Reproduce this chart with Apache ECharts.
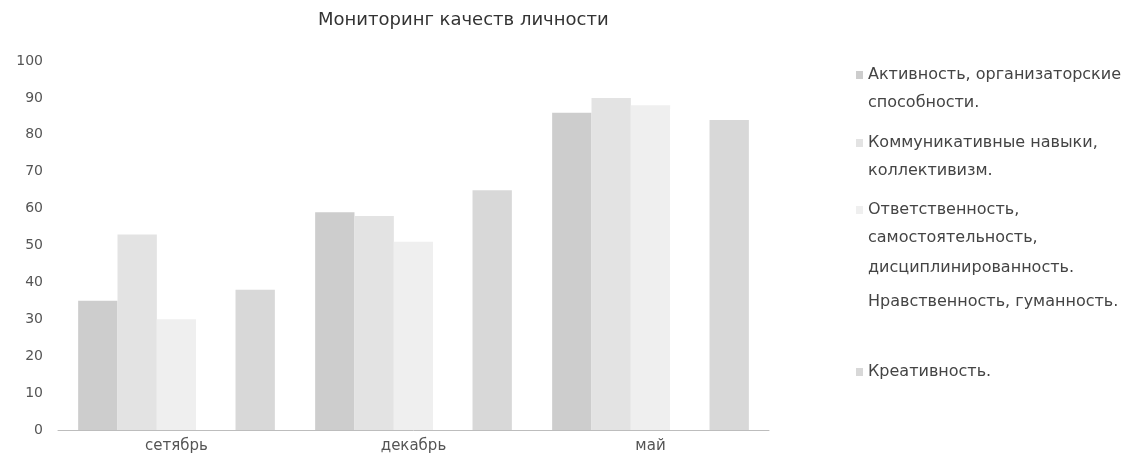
<!DOCTYPE html>
<html style="height: 100%">
<head>
    <meta charset="utf-8">
    <title>index</title>
    <style>
        body { margin: 0; background: #fff; }
        #container { width: 1140px; height: 461px; }
    </style>
</head>
<body>
    <div id="container"></div>
</body>
<script src="https://cdn.jsdelivr.net/npm/echarts@6/dist/echarts.min.js"></script>
<script type="text/javascript">
    var dom = document.getElementById("container");
    var myChart = echarts.init(dom);

    // данные
    var months = ["сетябрь", "декабрь", "май"];
    var seriesNames = [
        "Активность, организаторские способности.",
        "Коммуникативные навыки, коллективизм.",
        "Ответственность, самостоятельность, дисциплинированность.",
        "Нравственность, гуманность.",
        "Креативность."
    ];
    var activity = [35, 59, 86];
    var communication = [53, 58, 90];
    var responsibility = [30, 51, 88];
    var morality = [32, 55, 87];
    var creativity = [38, 65, 84];
    var yTicks = [0, 10, 20, 30, 40, 50, 60, 70, 80, 90, 100];

    // строки легенды
    var legendLines = [
        ["Активность, организаторские", "способности."],
        ["Коммуникативные навыки,", "коллективизм."],
        ["Ответственность,", "самостоятельность,", "дисциплинированность."],
        ["Нравственность, гуманность."],
        ["Креативность."]
    ];
    var legendTops = [75, 143, 210, 302, 372];
    var colors = ["#cdcdcd", "#e3e3e3", "#efefef", "#ffffff", "#d8d8d8"];
    var values = [activity, communication, responsibility, morality, creativity];

    var font = "DejaVu Sans";
    var legends = [];
    var graphics = [];
    seriesNames.forEach(function (name, i) {
        legends.push({
            data: [name],
            left: 856,
            top: legendTops[i] - 10,
            padding: 0,
            icon: "rect",
            itemWidth: 7,
            itemHeight: 8,
            selectedMode: false,
            formatter: function () { return legendLines[i][0]; },
            textStyle: { fontFamily: font, fontSize: 16, color: "#444", lineHeight: 20 }
        });
        for (var j = 1; j < legendLines[i].length; j++) {
            graphics.push({
                type: "text",
                left: 868,
                top: legendTops[i] + j * 30 - 10,
                style: {
                    text: legendLines[i][j],
                    font: "16px " + font,
                    fill: "#444"
                }
            });
        }
    });

    var series = seriesNames.map(function (name, i) {
        return {
            name: name,
            type: "bar",
            data: values[i],
            barGap: "0%",
            barCategoryGap: "17%",
            itemStyle: { color: colors[i] }
        };
    });

    var option = {
        backgroundColor: "#fff",
        animation: false,
        title: {
            text: "Мониторинг качеств личности",
            left: 318,
            top: 11,
            padding: 0,
            textStyle: { fontFamily: font, fontSize: 18, fontWeight: "normal", color: "#333" }
        },
        legend: legends,
        graphic: graphics,
        grid: { left: 58, right: 371, top: 61, bottom: 31 },
        xAxis: {
            type: "category",
            data: months,
            axisTick: { show: false },
            axisLine: { lineStyle: { color: "#bdbdbd", width: 1 } },
            axisLabel: { margin: 9, fontFamily: font, fontSize: 15, color: "#555" }
        },
        yAxis: {
            type: "value",
            min: yTicks[0],
            max: yTicks[yTicks.length - 1],
            interval: 10,
            splitLine: { show: false },
            axisLine: { show: false },
            axisTick: { show: false },
            axisLabel: { margin: 15, fontFamily: font, fontSize: 14, color: "#555" }
        },
        series: series
    };
    myChart.setOption(option, true);
</script>
</html>
